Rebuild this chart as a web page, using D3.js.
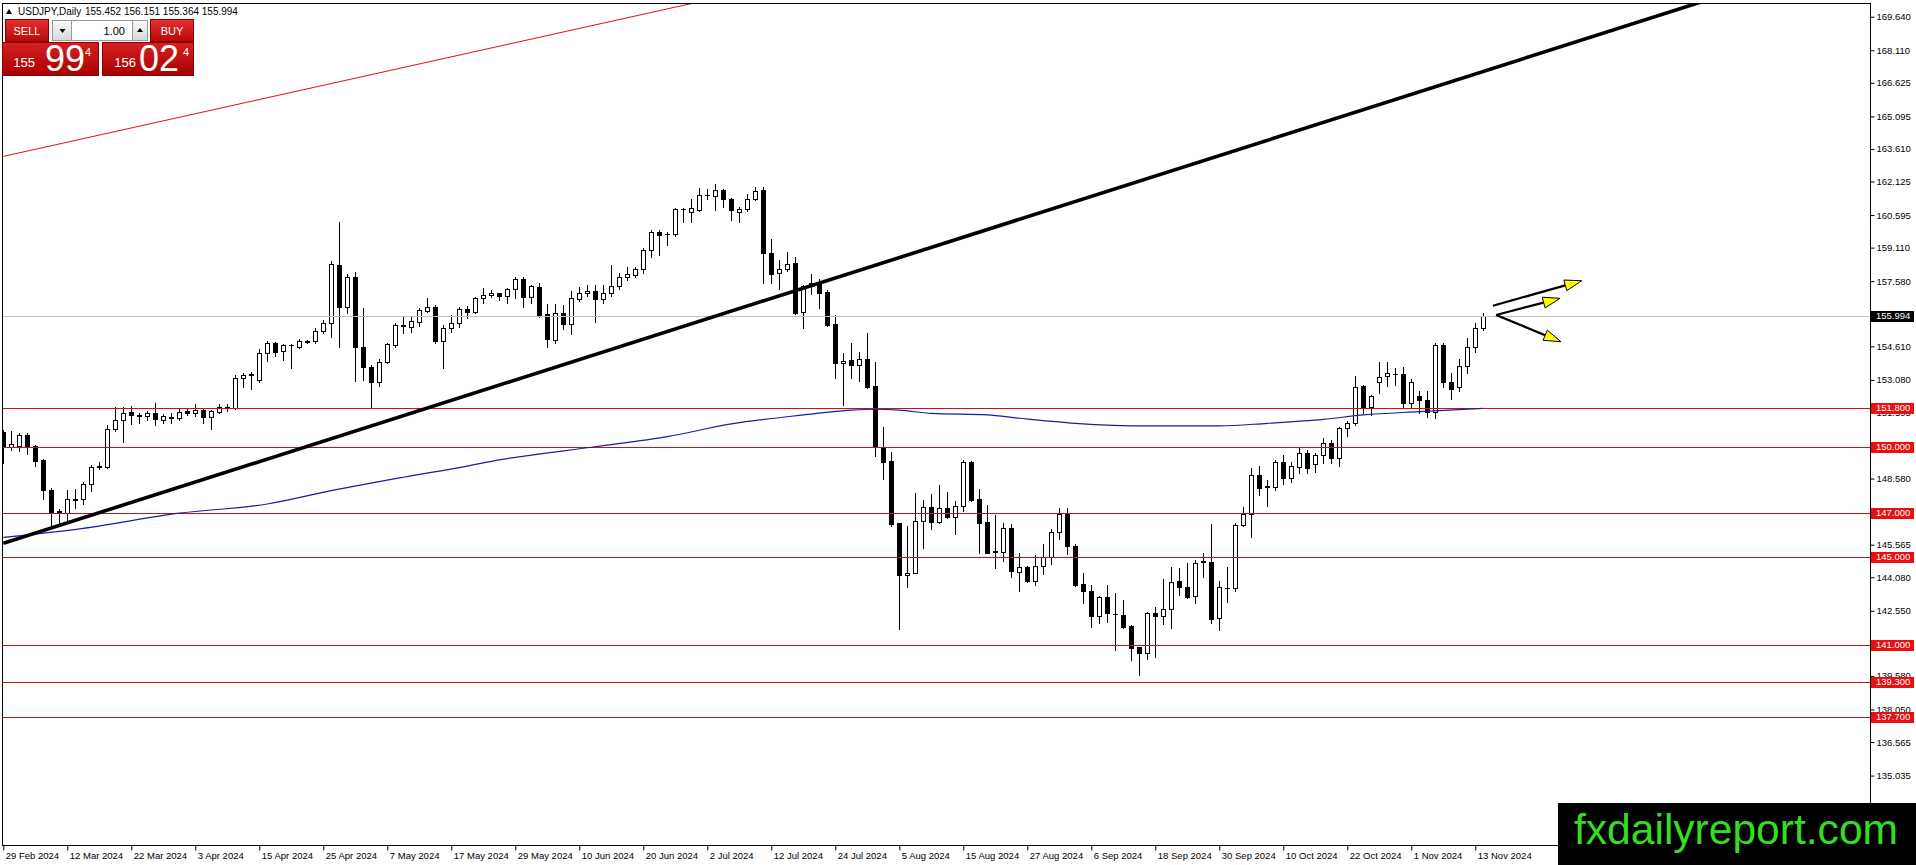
<!DOCTYPE html>
<html><head><meta charset="utf-8">
<script src="https://cdn.jsdelivr.net/npm/d3@7"></script>
<style>
html,body{margin:0;padding:0;background:#fff;overflow:hidden}
svg{display:block;font-family:"Liberation Sans",Arial,sans-serif}
</style></head><body>
<svg id="c" width="1916" height="865"></svg>
<script>
// ---------- data (USDJPY daily, 29 Feb 2024 .. 14 Nov 2024) ----------
const opens=[
150.72,150.02,150.06,150.56,150.06,149.42,148.06,147.12,147.00,147.60,
147.63,148.33,149.16,149.12,150.82,151.25,151.61,151.46,151.43,151.58,
151.25,151.35,151.32,151.67,151.55,151.70,151.37,151.63,151.83,151.78,
153.15,153.30,153.07,154.29,154.74,154.41,154.65,154.59,154.82,154.87,
155.32,155.66,158.30,156.39,157.78,154.59,153.65,152.99,153.91,154.67,
155.55,155.50,155.73,156.23,156.42,154.87,155.43,155.66,156.29,156.19,
156.80,156.93,157.02,156.92,157.21,157.69,156.84,157.33,156.08,154.90,
156.11,155.63,156.75,157.03,157.15,156.75,157.03,157.36,157.76,157.86,
158.12,159.00,159.84,159.72,159.72,160.86,160.75,160.83,161.51,161.46,
161.74,161.31,160.75,160.86,161.31,161.74,158.85,157.94,158.12,158.39,
156.19,157.36,157.48,157.10,155.63,153.86,153.99,153.76,154.02,152.80,
150.00,149.40,146.54,144.18,144.29,146.66,147.27,146.61,147.22,146.81,
147.33,149.35,147.63,146.61,145.25,145.25,146.31,144.33,144.53,143.93,
144.60,144.99,146.16,146.97,145.51,143.77,143.43,142.32,143.17,142.41,
142.36,141.86,140.89,140.61,142.44,142.32,142.62,143.93,143.62,143.23,
144.80,144.79,142.21,143.58,143.58,146.47,146.97,148.75,148.21,148.21,
149.35,148.60,149.10,149.76,149.25,149.66,150.22,149.50,150.87,151.10,
152.80,151.86,152.96,153.26,153.35,153.35,152.04,152.35,152.17,151.63,
154.67,152.96,152.74,153.72,154.60,155.452];
const highs=[
150.80,150.75,150.64,150.64,150.11,149.45,148.13,147.17,148.06,148.10,
148.44,149.20,149.35,151.02,151.83,151.83,151.89,151.58,151.67,152.04,
151.52,151.55,151.73,151.73,151.98,151.73,151.71,151.98,151.98,153.30,
153.38,153.45,154.47,154.87,154.80,154.71,154.71,154.93,154.90,155.43,
155.81,158.51,160.28,157.90,158.01,156.34,153.76,154.01,154.78,155.69,
155.96,155.96,156.34,156.80,156.49,155.58,156.04,156.39,156.45,156.84,
157.25,157.18,157.05,157.25,157.79,157.76,157.41,157.51,156.54,156.54,
156.49,157.15,157.30,157.41,157.41,157.41,158.32,157.97,158.24,158.21,
159.08,159.91,159.91,159.84,160.90,160.90,161.31,161.81,161.77,162.01,
161.77,161.36,160.95,161.56,161.89,161.86,159.49,158.55,158.93,158.67,
157.41,157.91,157.66,157.18,156.04,154.32,154.78,154.37,155.23,153.91,
150.92,149.81,146.57,146.42,147.94,147.60,147.88,148.29,147.98,147.57,
149.43,149.40,148.09,147.37,146.92,146.54,146.51,145.20,144.60,145.10,
145.60,146.27,147.23,147.23,145.60,144.26,143.73,143.23,143.73,143.38,
143.05,141.90,140.92,142.51,142.74,143.99,144.54,144.49,144.75,144.87,
145.20,146.51,143.93,144.54,146.54,147.27,149.05,149.13,148.52,149.43,
149.66,149.35,149.96,149.86,149.76,150.42,150.34,150.95,151.22,153.26,
152.85,152.39,153.91,153.91,153.61,153.66,153.11,152.59,152.59,154.75,
154.75,153.41,154.02,154.98,155.66,156.151];
const lows=[
149.27,149.88,149.85,149.70,149.17,147.63,146.46,146.50,146.57,147.22,
147.42,148.03,149.00,149.04,150.76,150.26,151.07,151.10,151.25,151.02,
151.13,151.13,151.25,151.48,151.43,151.13,150.82,151.58,151.67,151.73,
152.74,152.65,153.00,153.95,154.17,154.00,153.60,154.52,154.74,154.77,
155.23,155.02,154.56,156.11,153.04,153.07,151.86,152.80,153.86,154.59,
155.20,155.28,155.53,156.19,154.74,153.60,155.28,155.50,155.88,156.14,
156.57,156.84,156.72,156.60,156.80,156.42,156.60,155.96,154.56,154.78,
155.38,155.17,156.69,156.90,155.73,156.60,156.90,157.21,157.63,157.76,
157.94,158.70,158.77,159.23,159.64,160.29,160.29,160.80,161.31,160.83,
160.98,160.37,160.29,160.80,161.28,157.48,157.48,157.21,158.06,156.08,
155.43,156.99,156.34,155.54,153.15,151.93,153.15,153.04,152.69,149.61,
148.54,146.42,141.70,143.65,144.26,145.40,146.26,146.57,146.77,146.05,
147.12,147.57,145.20,145.20,144.49,144.84,144.08,143.47,143.88,143.73,
144.23,144.69,145.81,145.14,143.68,142.90,141.80,141.98,142.06,140.74,
141.75,140.31,139.63,140.34,140.46,141.95,141.75,143.27,143.12,142.92,
144.11,142.01,141.68,142.97,143.43,146.42,145.93,147.83,147.33,148.06,
148.34,148.40,148.82,148.82,148.90,149.28,149.31,149.13,150.52,151.02,
151.59,151.48,152.47,152.80,152.85,151.86,151.86,151.56,151.38,151.33,
152.77,152.20,152.59,153.41,154.37,155.364];
const closes=[
150.03,150.14,150.56,150.03,149.39,148.06,147.07,147.02,147.63,147.63,
148.33,149.12,149.10,150.82,151.25,151.58,151.48,151.44,151.55,151.28,
151.43,151.37,151.63,151.55,151.70,151.37,151.66,151.86,151.80,153.15,
153.30,153.33,154.29,154.74,154.36,154.67,154.67,154.87,154.83,155.32,
155.66,158.36,156.39,157.78,154.59,153.65,152.99,153.91,154.71,155.57,
155.57,155.78,156.26,156.42,154.87,155.43,155.66,156.29,156.19,156.80,
156.95,157.02,156.92,157.21,157.69,156.84,157.36,156.04,154.93,156.11,
155.63,156.80,157.03,157.15,156.75,157.03,157.36,157.76,157.89,158.12,
159.00,159.84,159.69,159.74,160.86,160.88,160.90,161.51,161.53,161.74,
161.31,160.83,160.86,161.31,161.71,158.85,157.91,158.12,158.36,156.14,
157.36,157.51,157.06,155.58,153.86,153.96,153.76,154.02,152.74,150.00,
149.35,146.51,144.18,144.29,146.66,147.27,146.61,147.22,146.84,147.33,
149.35,147.60,146.57,145.20,145.26,146.31,144.38,144.53,143.93,144.60,
144.99,146.16,146.97,145.51,143.73,143.43,142.29,143.17,142.44,142.42,
141.83,140.84,140.64,142.44,142.32,142.62,143.88,143.62,143.20,144.75,
144.79,142.16,143.62,143.59,146.47,146.97,148.75,148.14,148.22,149.35,
148.60,149.13,149.76,149.05,149.66,150.22,149.50,150.87,151.10,152.77,
151.86,152.35,153.23,153.38,153.36,152.04,153.00,152.17,151.63,154.67,
152.96,152.65,153.72,154.60,155.45,155.994];

// moving average (read at sample bars)
const maBars  =[0,10,22,33,41,50,58,62,74,83,91,100,106,109,112,116,123,127,134,143,152,158,165,170,177,185];
const maValues=[145.90,146.31,147.00,147.42,148.03,148.64,149.15,149.43,150.03,150.49,151.07,151.48,151.70,151.74,151.70,151.55,151.48,151.33,151.10,150.98,150.98,151.10,151.28,151.48,151.63,151.78];

const levelPrices=[151.8,150.0,147.0,145.0,141.0,139.3,137.7];
const currentPrice=155.994;
// price-scale labels visible in the reference (others are hidden under the tags)
const priceTicks=[169.640,168.110,166.625,165.095,163.610,162.125,160.595,159.110,157.580,154.610,153.080,151.595,148.580,145.565,144.080,142.550,139.580,138.050,136.565,135.035];
const dateTickLabels=["29 Feb 2024","12 Mar 2024","22 Mar 2024","3 Apr 2024","15 Apr 2024","25 Apr 2024","7 May 2024","17 May 2024","29 May 2024","10 Jun 2024","20 Jun 2024","2 Jul 2024","12 Jul 2024","24 Jul 2024","5 Aug 2024","15 Aug 2024","27 Aug 2024","6 Sep 2024","18 Sep 2024","30 Sep 2024","10 Oct 2024","22 Oct 2024","1 Nov 2024","13 Nov 2024"];
const dateTickBars=[0,8,16,24,32,40,48,56,64,72,80,88,96,104,112,120,128,136,144,152,160,168,176,184];

// drawn objects: [bar, price] anchors
const blackTrend=[[0,145.63],[127,160.40]];
const redTrend=[[0,163.27],[86,170.24]];
const arrowStarts=[[186.2,156.46],[186.6,156.04],[186.6,156.04]];
const arrowEnds  =[[197.3,157.60],[194.6,156.80],[194.7,154.82]];

const headerSymbol="USDJPY,Daily";
const headerOHLC=["155.452","156.151","155.364","155.994"];
const lotText="1.00";
const sellQuote=["155","99","4"], buyQuote=["156","02","4"];
const watermark="fxdailyreport.com";

// ---------- scales ----------
const svg=d3.select("#c");
const L=3, T=3, R=1870, B=845;
const x=d3.scaleLinear().domain([0,185]).range([3.3,1483.3]);
const y=d3.scaleLinear().domain([131.87,170.265]).range([B,T]);

const defs=svg.append("defs");
defs.append("clipPath").attr("id","plot").append("rect").attr("x",L).attr("y",T).attr("width",R-L).attr("height",B-T);

const plot=svg.append("g").attr("clip-path","url(#plot)");

// candles
const bars=d3.range(opens.length);
const cg=plot.append("g").attr("shape-rendering","crispEdges");
bars.forEach(i=>{
  const cx=Math.round(x(i));
  const o=opens[i],c=closes[i];
  const yt=Math.round(y(Math.max(o,c))), yb=Math.round(y(Math.min(o,c)));
  cg.append("line").attr("x1",cx+0.5).attr("x2",cx+0.5)
    .attr("y1",Math.round(y(highs[i]))).attr("y2",Math.round(y(lows[i]))+1)
    .attr("stroke","#000").attr("stroke-width",1);
  if(yb-yt<1){
    cg.append("line").attr("x1",cx-2).attr("x2",cx+3).attr("y1",yt+0.5).attr("y2",yt+0.5).attr("stroke","#000");
  } else if(c>=o){
    cg.append("rect").attr("x",cx-1.5).attr("y",yt+0.5).attr("width",4).attr("height",yb-yt)
      .attr("fill","#fff").attr("stroke","#000").attr("stroke-width",1);
  } else {
    cg.append("rect").attr("x",cx-2).attr("y",yt).attr("width",5).attr("height",yb-yt+1).attr("fill","#000");
  }
});

// current price line
plot.append("line").attr("x1",L).attr("x2",R).attr("y1",Math.round(y(currentPrice))+0.5).attr("y2",Math.round(y(currentPrice))+0.5)
  .attr("stroke","#c0c0c0").attr("stroke-width",1);

// horizontal levels
plot.selectAll("line.lvl").data(levelPrices).join("line").attr("class","lvl")
  .attr("x1",L).attr("x2",R)
  .attr("y1",d=>Math.round(y(d))+0.5).attr("y2",d=>Math.round(y(d))+0.5)
  .attr("stroke","#cc1111").attr("stroke-width",1);

// moving average
plot.append("path").datum(maBars.map((b,k)=>[b,maValues[k]]))
  .attr("d",d3.line().x(d=>x(d[0])).y(d=>y(d[1])).curve(d3.curveMonotoneX))
  .attr("fill","none").attr("stroke","#1c1c9c").attr("stroke-width",1.2);

// trend lines (rays extended)
function ray(a,b,toBar){
  const s=(b[1]-a[1])/(b[0]-a[0]);
  return [[a[0],a[1]],[toBar,a[1]+s*(toBar-a[0])]];
}
const tl=d3.line().x(d=>x(d[0])).y(d=>y(d[1]));
plot.append("path").datum(ray(redTrend[0],redTrend[1],300)).attr("d",tl)
  .attr("fill","none").attr("stroke","#dd1111").attr("stroke-width",1);
plot.append("path").datum(ray(blackTrend[0],blackTrend[1],300)).attr("d",tl)
  .attr("fill","none").attr("stroke","#000").attr("stroke-width",3.6);

// arrows
arrowStarts.forEach((s,k)=>{
  const e=arrowEnds[k];
  const x1=x(s[0]),y1=y(s[1]),x2=x(e[0]),y2=y(e[1]);
  const ang=Math.atan2(y2-y1,x2-x1), len=17, hw=5.5;
  const bx=x2-len*Math.cos(ang), by=y2-len*Math.sin(ang);
  plot.append("line").attr("x1",x1).attr("y1",y1).attr("x2",bx).attr("y2",by)
    .attr("stroke","#000").attr("stroke-width",2.2);
  const p1=[bx+hw*Math.sin(ang),by-hw*Math.cos(ang)], p2=[bx-hw*Math.sin(ang),by+hw*Math.cos(ang)];
  plot.append("path").attr("d",`M${x2},${y2}L${p1[0]},${p1[1]}L${p2[0]},${p2[1]}Z`)
    .attr("fill","#ffff00").attr("stroke","#000").attr("stroke-width",1);
});

// frame
svg.append("rect").attr("x",L-0.5).attr("y",T+0.5).attr("width",R-L+1).attr("height",B-T)
  .attr("fill","none").attr("stroke","#000").attr("stroke-width",1).attr("shape-rendering","crispEdges");

// ---------- axes ----------
const yAxis=svg.append("g").attr("transform",`translate(${R+0.5},0)`)
  .call(d3.axisRight(y).tickValues(priceTicks).tickFormat(d3.format(".3f")).tickSize(4).tickSizeOuter(0).tickPadding(2));
yAxis.select(".domain").remove();
yAxis.selectAll("text").attr("font-family","Liberation Sans, Arial, sans-serif").attr("font-size","9.5px").attr("fill","#000");

const xAxis=svg.append("g").attr("transform",`translate(0,${B+0.5})`)
  .call(d3.axisBottom(x).tickValues(dateTickBars).tickFormat((d,k)=>dateTickLabels[k]).tickSize(5).tickSizeOuter(0).tickPadding(2));
xAxis.select(".domain").remove();
xAxis.selectAll("text").attr("text-anchor","start").attr("x",2)
  .attr("font-family","Liberation Sans, Arial, sans-serif").attr("font-size","9.5px").attr("fill","#000");

// price tags on axis
function tag(p,fill){
  const yy=Math.round(y(p));
  svg.append("rect").attr("x",R+1).attr("y",yy-5).attr("width",43).attr("height",11).attr("fill",fill);
  svg.append("text").attr("x",R+6).attr("y",yy).attr("dy","0.35em").attr("fill","#fff")
    .attr("font-size","9.5px").text(d3.format(".3f")(p));
}
levelPrices.forEach(p=>tag(p,"#e81010"));
tag(currentPrice,"#000");

// ---------- header ----------
svg.append("path").attr("d","M6,14L12,14L9,9Z").attr("fill","#000");
svg.append("text").attr("x",18).attr("y",15).attr("font-size","10px").attr("fill","#000").text(headerSymbol);
svg.append("text").attr("x",85).attr("y",15).attr("font-size","10px").attr("fill","#000").text(headerOHLC.join(" "));

// one-click trading panel
const gRed=defs.append("linearGradient").attr("id","gRed").attr("x1",0).attr("x2",0).attr("y1",0).attr("y2",1);
gRed.append("stop").attr("offset","0%").attr("stop-color","#e83030");
gRed.append("stop").attr("offset","100%").attr("stop-color","#b60808");
const gBig=defs.append("linearGradient").attr("id","gBig").attr("x1",0).attr("x2",0).attr("y1",0).attr("y2",1);
gBig.append("stop").attr("offset","0%").attr("stop-color","#d62020");
gBig.append("stop").attr("offset","100%").attr("stop-color","#a80000");
const gGray=defs.append("linearGradient").attr("id","gGray").attr("x1",0).attr("x2",0).attr("y1",0).attr("y2",1);
gGray.append("stop").attr("offset","0%").attr("stop-color","#fafafa");
gGray.append("stop").attr("offset","100%").attr("stop-color","#d8d8d8");

const panel=svg.append("g").attr("shape-rendering","crispEdges");
panel.append("rect").attr("x",5.5).attr("y",19.5).attr("width",43).attr("height",22).attr("fill","url(#gRed)").attr("stroke","#8a0000");
panel.append("rect").attr("x",150.5).attr("y",19.5).attr("width",43).attr("height",22).attr("fill","url(#gRed)").attr("stroke","#8a0000");
panel.append("rect").attr("x",52.5).attr("y",20.5).attr("width",95).attr("height",20).attr("fill","#fff").attr("stroke","#9a9a9a");
panel.append("rect").attr("x",52.5).attr("y",20.5).attr("width",19).attr("height",20).attr("fill","url(#gGray)").attr("stroke","#9a9a9a");
panel.append("rect").attr("x",132.5).attr("y",20.5).attr("width",15).attr("height",20).attr("fill","url(#gGray)").attr("stroke","#9a9a9a");
panel.append("rect").attr("x",2.5).attr("y",42.5).attr("width",96).attr("height",33).attr("fill","url(#gBig)").attr("stroke","#8a0000");
panel.append("rect").attr("x",102.5).attr("y",42.5).attr("width",91).attr("height",33).attr("fill","url(#gBig)").attr("stroke","#8a0000");
svg.append("path").attr("d","M59.5,29L65.5,29L62.5,33Z").attr("fill","#000");
svg.append("path").attr("d","M137,32L143,32L140,28Z").attr("fill","#000");
svg.append("text").attr("x",27).attr("y",35).attr("text-anchor","middle").attr("font-size","11px").attr("fill","#fff").text("SELL");
svg.append("text").attr("x",172).attr("y",35).attr("text-anchor","middle").attr("font-size","11px").attr("fill","#fff").text("BUY");
svg.append("text").attr("x",125).attr("y",35).attr("text-anchor","end").attr("font-size","11px").attr("fill","#000").text(lotText);
function quote(q,x0,x1,x2){
  svg.append("text").attr("x",x0).attr("y",67).attr("text-anchor","end").attr("font-size","13px").attr("fill","#fff").text(q[0]);
  svg.append("text").attr("x",x1).attr("y",71).attr("font-size","36px").attr("fill","#fff").text(q[1]);
  svg.append("text").attr("x",x2).attr("y",56).attr("font-size","11px").attr("fill","#fff").text(q[2]);
}
quote(sellQuote,35,45,85);
quote(buyQuote,136,139,183);

// watermark
svg.append("rect").attr("x",1558).attr("y",803).attr("width",358).attr("height",62).attr("fill","#000");
svg.append("text").attr("x",1574).attr("y",844).attr("font-size","42px").attr("fill","#33dd22")
  .attr("textLength",324).attr("lengthAdjust","spacingAndGlyphs").text(watermark);
</script>
</body></html>
